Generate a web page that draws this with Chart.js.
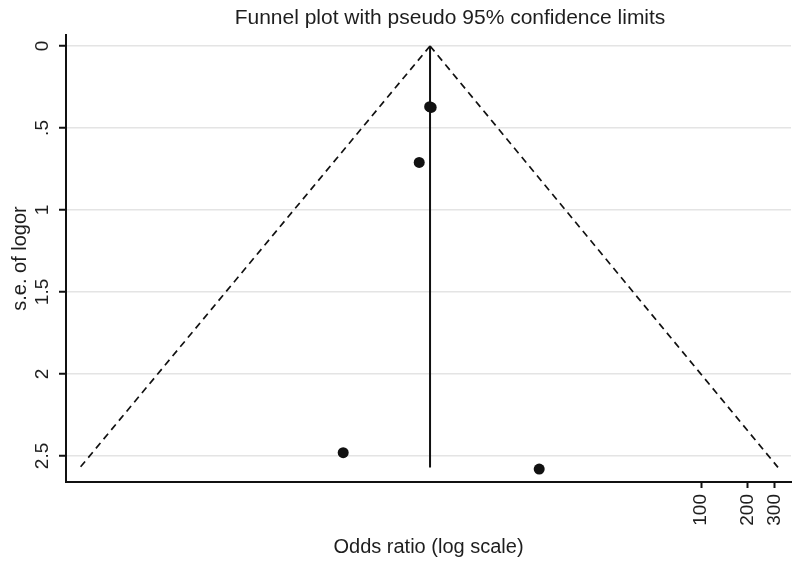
<!DOCTYPE html>
<html><head><meta charset="utf-8">
<script src="https://cdn.jsdelivr.net/npm/chart.js@4/dist/chart.umd.min.js"></script>
<style>html,body{margin:0;padding:0;background:#fff}#wrap{width:800px;height:569px}</style>
</head><body><div id="wrap"><canvas id="c" width="800" height="569"></canvas></div>
<script>
// ---- data ----
const studyOR = [1.73, 1.77, 1.48, 0.475, 8.9];
const studySE = [0.37, 0.375, 0.71, 2.48, 2.58];
const pooledOR = 1.74;
const funnelSE = [0, 2.57];
const funnelLowerOR = [1.74, 0.0093];
const funnelUpperOR = [1.74, 316];
const yTickValues = [0, 0.5, 1, 1.5, 2, 2.5];
const yTickLabels = ['0', '.5', '1', '1.5', '2', '2.5'];
const xTickValues = [100, 200, 300];
const xTickLabels = ['100', '200', '300'];
const chartTitle = 'Funnel plot with pseudo 95% confidence limits';
const xTitle = 'Odds ratio (log scale)';
const yTitle = 's.e. of logor';

const FONT = '"Liberation Sans", Arial, sans-serif';
const INK = '#1e1e1e';

const studies = studyOR.map((x, i) => ({x, y: studySE[i]}));
const lower = funnelSE.map((y, i) => ({x: funnelLowerOR[i], y}));
const upper = funnelSE.map((y, i) => ({x: funnelUpperOR[i], y}));
const pooled = funnelSE.map(y => ({x: pooledOR, y}));

const extras = {
  id: 'extras',
  afterDraw(chart) {
    const ctx = chart.ctx, ys = chart.scales.y;
    ctx.save();
    ctx.fillStyle = INK;
    ctx.textAlign = 'center';
    ctx.textBaseline = 'middle';
    ctx.font = '19px ' + FONT;
    yTickValues.forEach((v, i) => {
      const py = ys.getPixelForValue(v);
      ctx.save();
      ctx.translate(43, py);
      ctx.rotate(-Math.PI / 2);
      ctx.fillText(yTickLabels[i], 0, 0);
      ctx.restore();
    });
    ctx.font = '21px ' + FONT;
    ctx.fillText(chartTitle, 450, 18);
    ctx.restore();
  }
};

new Chart(document.getElementById('c'), {
  type: 'scatter',
  data: {
    datasets: [
      {data: studies, backgroundColor: '#111', borderWidth: 0, pointRadius: 5.5, showLine: false},
      {data: pooled, showLine: true, borderColor: '#111', borderWidth: 2, pointRadius: 0},
      {data: lower, showLine: true, borderColor: '#111', borderWidth: 1.7, borderDash: [7, 5], pointRadius: 0},
      {data: upper, showLine: true, borderColor: '#111', borderWidth: 1.7, borderDash: [7, 5], pointRadius: 0}
    ]
  },
  options: {
    responsive: false,
    animation: false,
    devicePixelRatio: 1,
    layout: {padding: {top: 35, right: 9, left: 0, bottom: 0}},
    plugins: {legend: {display: false}, tooltip: {enabled: false}, title: {display: false}},
    scales: {
      x: {
        type: 'logarithmic',
        min: 0.00753,
        max: 384,
        afterBuildTicks: s => { s.ticks = xTickValues.map(v => ({value: v})); },
        afterFit: s => { s.height = 87; s.paddingRight = 0; s.paddingLeft = 0; },
        ticks: {
          autoSkip: false, minRotation: 90, maxRotation: 90, padding: 6,
          color: INK, font: {family: FONT, size: 19},
          callback: v => { const i = xTickValues.indexOf(v); return i >= 0 ? xTickLabels[i] : ''; }
        },
        grid: {drawOnChartArea: false, drawTicks: true, tickLength: 6, tickColor: '#111', tickWidth: 2},
        border: {display: true, color: '#111', width: 2},
        title: {display: true, text: xTitle, color: INK, font: {family: FONT, size: 20}, padding: {top: 0, bottom: 10}}
      },
      y: {
        type: 'linear',
        reverse: true,
        min: -0.067,
        max: 2.659,
        afterBuildTicks: s => { s.ticks = yTickValues.map(v => ({value: v})); },
        afterFit: s => { s.width = 66; s.paddingTop = 0; s.paddingBottom = 0; },
        ticks: {display: false},
        grid: {color: '#e4e4e4', lineWidth: 1.5, drawTicks: true, tickLength: 7, tickColor: '#111', tickWidth: 2},
        border: {display: true, color: '#111', width: 2},
        title: {display: true, text: yTitle, color: INK, font: {family: FONT, size: 20}, padding: {top: 8, bottom: 0}}
      }
    }
  },
  plugins: [extras]
});
</script>
</body></html>
